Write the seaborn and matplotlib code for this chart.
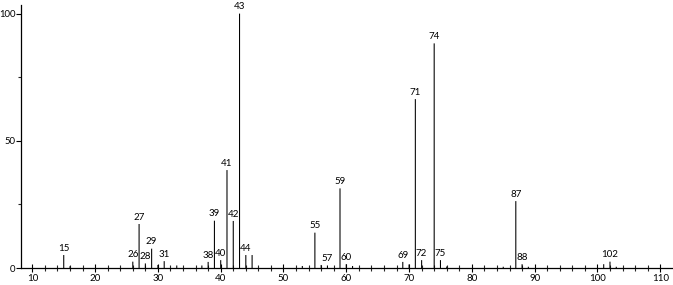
import matplotlib
matplotlib.use("Agg")
import matplotlib.pyplot as plt
from matplotlib.ticker import MultipleLocator
import seaborn as sns
import pandas as pd

# m/z values and relative intensities (%)
mz = [15, 16, 26, 27, 28, 29, 30, 31, 33, 37, 38, 39, 40, 41, 42, 43, 44, 45,
      53, 55, 56, 57, 59, 60, 61, 69, 70, 71, 72, 74, 75, 76, 85, 87, 88, 89,
      101, 102, 103]
intensity = [5.1, 0.7, 2.5, 17.3, 1.8, 7.6, 1.2, 2.7, 1.0, 1.0, 2.4, 18.6, 3.1,
             38.5, 18.5, 100.0, 5.1, 5.1, 0.8, 13.9, 1.2, 1.0, 31.3, 1.5, 0.8,
             2.4, 1.4, 66.4, 3.1, 88.3, 3.1, 0.6, 0.5, 26.3, 1.5, 0.5, 1.5,
             2.5, 0.5]
labeled = [15, 26, 27, 28, 29, 31, 38, 39, 40, 41, 42, 43, 44, 55, 57, 59, 60,
           69, 71, 72, 74, 75, 87, 88, 102]
y_ticks = [0, 50, 100]

sns.set_theme(style="ticks")
plt.rcParams["font.family"] = ["Lato", "DejaVu Sans"]

df = pd.DataFrame({"mz": mz, "intensity": intensity})

fig = plt.figure(figsize=(6.73, 2.85), dpi=100)
ax = fig.add_axes([0.0308, 0.0596, 0.967, 0.923])

sns.histplot(data=df, x="mz", weights="intensity", discrete=True,
             shrink=0.17, color="black", alpha=1, linewidth=0, ax=ax)
for p in ax.patches:
    p.set_snap(False)

lookup = dict(zip(mz, intensity))
for m in labeled:
    ax.text(m, lookup[m] + 0.9, str(m), ha="center", va="bottom",
            fontsize=7, color="black")

ax.set_xlim(8.15, 111.8)
ax.set_ylim(0, 103.4)
ax.set_xlabel("")
ax.set_ylabel("")
ax.xaxis.set_major_locator(MultipleLocator(10))
ax.xaxis.set_minor_locator(MultipleLocator(2))
ax.set_yticks(y_ticks)
ax.yaxis.set_minor_locator(MultipleLocator(25))
ax.tick_params(axis="x", which="major", direction="inout", length=6, width=0.8,
               labelsize=7, pad=1, colors="black")
ax.tick_params(axis="x", which="minor", direction="inout", length=4, width=0.8)
ax.tick_params(axis="y", which="major", direction="out", length=3.5, width=0.8,
               labelsize=6.8, pad=0.3, colors="black")
ax.tick_params(axis="y", which="minor", direction="out", length=2.5, width=0.8)
for s in ["top", "right"]:
    ax.spines[s].set_visible(False)
for s in ["left", "bottom"]:
    ax.spines[s].set_linewidth(0.9)
    ax.spines[s].set_color("black")

fig.savefig("out.png", dpi=100)
